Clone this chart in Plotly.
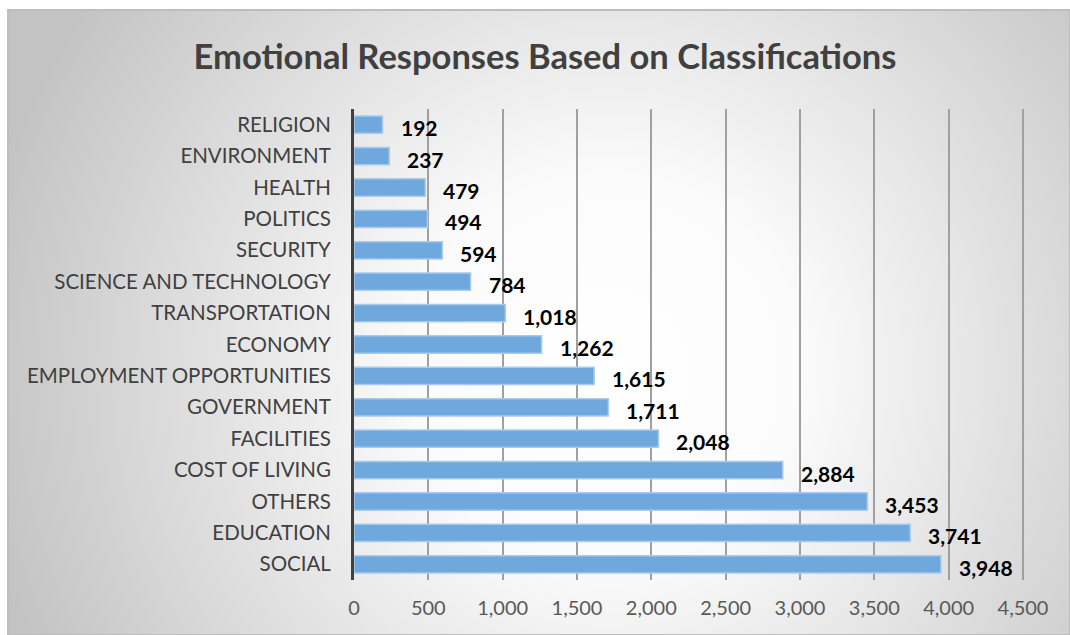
import base64
import plotly.graph_objects as go

categories = ["SOCIAL", "EDUCATION", "OTHERS", "COST OF LIVING", "FACILITIES", "GOVERNMENT",
              "EMPLOYMENT OPPORTUNITIES", "ECONOMY", "TRANSPORTATION", "SCIENCE AND TECHNOLOGY",
              "SECURITY", "POLITICS", "HEALTH", "ENVIRONMENT", "RELIGION"]
values = [3948, 3741, 3453, 2884, 2048, 1711, 1615, 1262, 1018, 784, 594, 494, 479, 237, 192]
x_ticks = [0, 500, 1000, 1500, 2000, 2500, 3000, 3500, 4000, 4500]
x_tick_labels = ["0", "500", "1,000", "1,500", "2,000", "2,500", "3,000", "3,500", "4,000", "4,500"]

W, H = 1070, 635
FONT = "Lato"

# background radial gradient (decoration)
svg = '''<svg xmlns="http://www.w3.org/2000/svg" width="1062" height="625" viewBox="0 0 1062 625" preserveAspectRatio="none">
<defs><radialGradient id="g" gradientUnits="userSpaceOnUse" cx="600" cy="360" r="640">
<stop offset="0" stop-color="#ffffff"/><stop offset="0.3" stop-color="#fbfbfb"/>
<stop offset="1" stop-color="#c3c3c3"/></radialGradient></defs>
<rect x="0" y="0" width="1062" height="625" fill="url(#g)"/></svg>'''
src = "data:image/svg+xml;base64," + base64.b64encode(svg.encode()).decode()

XMAX = 4520
x0 = 354
x1 = 354 + 669 * XMAX / 4500
y_top, y_bot = 109, 580

fig = go.Figure()
fig.add_trace(go.Bar(
    x=values, y=categories, orientation="h",
    marker=dict(color="#6fa8dc", line=dict(color="#a8caec", width=1.5)),
    width=0.55, hoverinfo="x+y",
))

annotations = []
for c, v in zip(categories, values):
    annotations.append(dict(x=v, y=c, xref="x", yref="y", text=f"{v:,}", showarrow=False,
                            xanchor="left", yanchor="middle", xshift=16, yshift=-3,
                            font=dict(family=FONT, size=21, color="#000000", weight="bold")))

fig.update_layout(
    template="none",
    width=W, height=H,
    margin=dict(l=0, r=0, t=0, b=0, pad=0),
    paper_bgcolor="white",
    plot_bgcolor="rgba(0,0,0,0)",
    showlegend=False,
    title=dict(text="<b>Emotional Responses Based on Classifications</b>", x=545 / W, xanchor="center",
               y=1 - 57 / H, yanchor="middle", xref="container", yref="container",
               font=dict(family=FONT, size=34.5, color="#404040")),
    xaxis=dict(domain=[x0 / W, x1 / W], range=[0, XMAX], tickvals=x_ticks, ticktext=x_tick_labels,
               showgrid=True, gridcolor="#a0a0a0", gridwidth=1.5, zeroline=False, showline=False,
               tickfont=dict(family=FONT, size=20, color="#595959"), ticks="", ticklabelstandoff=14,
               automargin=False, fixedrange=True),
    yaxis=dict(domain=[(H - y_bot) / H, (H - y_top) / H], categoryorder="array", categoryarray=categories,
               showgrid=False, zeroline=False, showline=True, linecolor="#404040", linewidth=3,
               tickfont=dict(family=FONT, size=20.5, color="#404040"), ticks="", ticklabelstandoff=16,
               range=[-0.5, len(categories) - 0.5], automargin=False, fixedrange=True),
    bargap=0.45,
    annotations=annotations,
    images=[dict(source=src, xref="paper", yref="paper", x=8 / W, y=1 - 10 / H,
                 sizex=1062 / W, sizey=625 / H, sizing="stretch", xanchor="left", yanchor="top",
                 layer="below")],
    shapes=[dict(type="rect", xref="paper", yref="paper", x0=8 / W, x1=1, y0=0, y1=1 - 10 / H,
                 line=dict(color="#bdbdbd", width=2), layer="below")],
)

fig.write_html("out.html")
